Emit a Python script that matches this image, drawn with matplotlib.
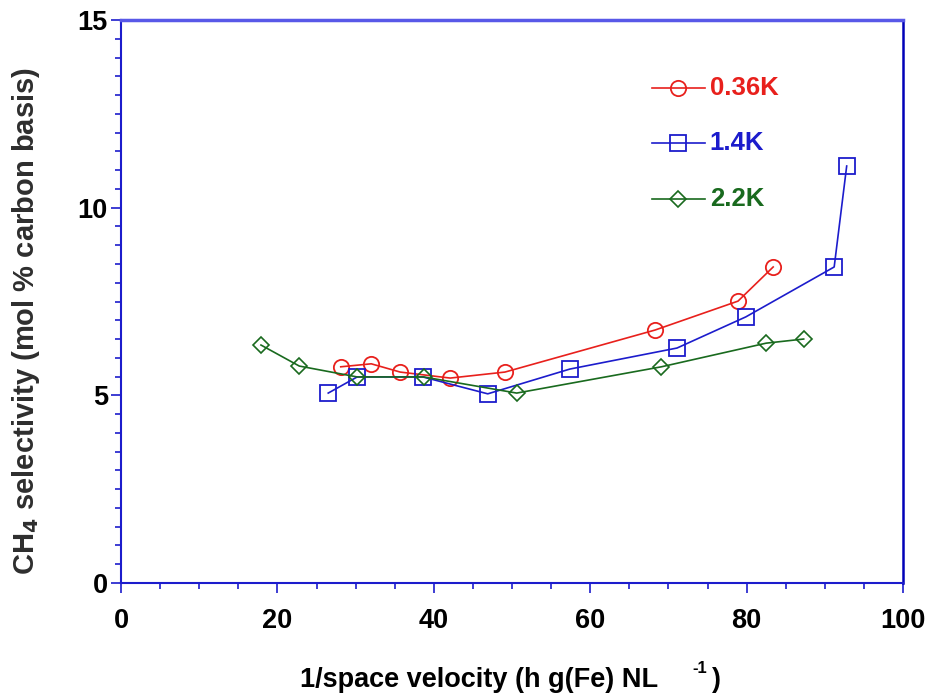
import matplotlib
matplotlib.use("Agg")
import matplotlib.pyplot as plt
from matplotlib.ticker import MultipleLocator
from matplotlib.lines import Line2D

# Data
x_036 = [28.1, 32.0, 35.7, 42.1, 49.1, 68.3, 78.9, 83.4]
y_036 = [5.76, 5.84, 5.62, 5.46, 5.62, 6.74, 7.51, 8.42]
x_14 = [26.5, 30.2, 38.6, 46.9, 57.4, 71.1, 79.9, 91.2, 92.8]
y_14 = [5.06, 5.49, 5.49, 5.04, 5.70, 6.26, 7.09, 8.42, 11.11]
x_22 = [17.9, 22.8, 30.2, 38.7, 50.6, 69.1, 82.5, 87.3]
y_22 = [6.34, 5.78, 5.49, 5.49, 5.06, 5.76, 6.39, 6.50]
series_labels = ["0.36K", "1.4K", "2.2K"]
x_ticks = [0, 20, 40, 60, 80, 100]
y_ticks = [0, 5, 10, 15]

RED = "#e8201c"
BLUE = "#1c1ccc"
GREEN = "#196a1e"

plt.rcParams['font.family'] = ['Liberation Sans', 'DejaVu Sans']

fig = plt.figure(figsize=(9.25, 6.94), dpi=100)
ax = fig.add_axes([121/925, 1-583/694, (903-121)/925, (583-20)/694])

ax.plot(x_036, y_036, color=RED, lw=1.2, marker='o', ms=11, mfc='none', mec=RED, mew=1.3)
ax.plot(x_14, y_14, color=BLUE, lw=1.2, marker='s', ms=11, mfc='none', mec=BLUE, mew=1.3)
ax.plot(x_22, y_22, color=GREEN, lw=1.2, marker='D', ms=7.8, mfc='none', mec=GREEN, mew=1.2)

ax.set_xlim(0, 100)
ax.set_ylim(0, 15)
ax.set_xticks(x_ticks)
ax.set_yticks(y_ticks)
ax.xaxis.set_minor_locator(MultipleLocator(5))
ax.yaxis.set_minor_locator(MultipleLocator(0.5))
ax.tick_params(which='major', direction='out', length=7.5, width=1.2, color=BLUE)
ax.tick_params(which='minor', direction='out', length=4, width=1.2, color=BLUE)
ax.tick_params(axis='x', which='major', pad=10.5)
ax.tick_params(axis='y', which='major', pad=2)
ax.tick_params(top=False, right=False)

for lbl in ax.get_xticklabels() + ax.get_yticklabels():
    lbl.set_fontweight('bold')
    lbl.set_fontsize(19.5)

ax.spines['left'].set_color(BLUE)
ax.spines['left'].set_linewidth(1.5)
ax.spines['bottom'].set_color(BLUE)
ax.spines['bottom'].set_linewidth(1.5)
ax.spines['top'].set_color("#5858e8")
ax.spines['top'].set_linewidth(2.5)
ax.spines['right'].set_color("#0000b8")
ax.spines['right'].set_linewidth(1.8)

# Legend (manual)
leg_y = [13.19, 11.72, 10.23]
styles = [(RED, 'o', 11, 1.3), (BLUE, 's', 11, 1.3), (GREEN, 'D', 7.8, 1.2)]
for (c, m, ms, mew), yy, lab in zip(styles, leg_y, series_labels):
    ax.add_line(Line2D([67.9, 74.7], [yy, yy], color=c, lw=1.2))
    ax.plot([71.2], [yy], marker=m, ms=ms, mfc='none', mec=c, mew=mew, color=c)
    ax.text(75.3, yy, lab, color=c, fontsize=18.5, fontweight='bold', va='center', ha='left')

fig.text(26/925, 1-321/694, r"CH$_\mathbf{4}$ selectivity (mol % carbon basis)", fontsize=21,
         fontweight='bold', color='#2e2e2e', rotation=90, ha='center', va='center')
fig.text(300/925, 1-687/694, "1/space velocity (h g(Fe) NL", fontsize=19.5, fontweight='bold',
         ha='left', va='baseline')
fig.text(692/925, 1-673/694, "-1", fontsize=12, fontweight='bold', ha='left', va='baseline')
fig.text(712/925, 1-687/694, ")", fontsize=19.5, fontweight='bold', ha='left', va='baseline')

fig.savefig("out.png", dpi=100)
